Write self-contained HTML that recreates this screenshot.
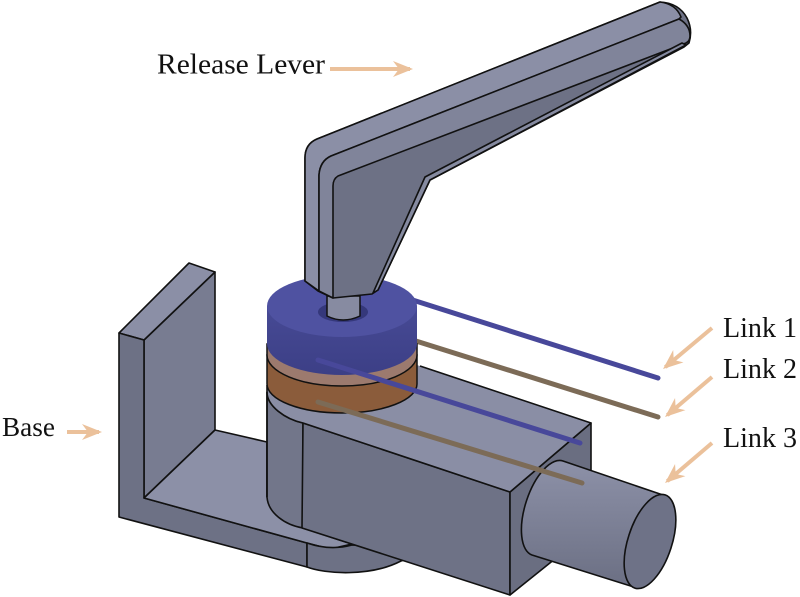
<!DOCTYPE html>
<html>
<head>
<meta charset="utf-8">
<style>
html,body{margin:0;padding:0;background:#ffffff;}
svg{display:block;}
text{font-family:"Liberation Serif","Times New Roman",serif;fill:#111;}
</style>
</head>
<body>
<svg width="800" height="597" viewBox="0 0 800 597" xmlns="http://www.w3.org/2000/svg">
<defs>
  <linearGradient id="cylg" x1="0" y1="0" x2="0" y2="1">
    <stop offset="0" stop-color="#8d91a8"/>
    <stop offset="1" stop-color="#6b6f83"/>
  </linearGradient>
  <linearGradient id="blueside" x1="0" y1="0" x2="0" y2="1">
    <stop offset="0" stop-color="#474a95"/>
    <stop offset="1" stop-color="#3c3f86"/>
  </linearGradient>
  <marker id="ah" markerUnits="userSpaceOnUse" markerWidth="20" markerHeight="18" viewBox="0 0 20 18" refX="17" refY="9" orient="auto">
    <path d="M0,1 L20,9 L0,17 L6,9 Z" fill="#ebc19b"/>
  </marker>
</defs>

<g stroke="#111" stroke-width="1.6" stroke-linejoin="round">
  <!-- Base: plate inner face -->
  <polygon points="144,340 215,272 215,430 144,498" fill="#787c91"/>
  <!-- plate top -->
  <polygon points="119,333 189,263 215,272 144,340" fill="#8b8fa6"/>
  <!-- front dark face (plate strip + floor side) -->
  <polygon points="119,333 144,340 144,498 307,543 307,567 119,517" fill="#6d7185"/>
  <!-- floor top -->
  <polygon points="144,498 215,430 267,442 267,497 303,528 352,544 330,549 307,543" fill="#8c90a7"/>
  <!-- rounded floor end -->
  <path d="M307,543 Q330,551 352,545 L410,546 L410,558 L401,561 C370,577 325,574 307,567 Z" fill="#6d7185"/>

  <!-- pivot cylinder side -->
  <path d="M267,392 C267,406 285,419 303,423 L303,528 C285,525 268,513 267,497 Z" fill="#72768a"/>

  <!-- block front face -->
  <polygon points="303,423 510,492 510,595 302,528" fill="#6e7286"/>
  <!-- block end face -->
  <polygon points="510,492 591,423 591,530 510,595" fill="#6a6e81"/>
</g>

<!-- light top region (cylinder top + block top) -->
<path d="M267,392 C267,406 285,419 303,423 L510,492 L591,423 L420,366 L267,320 Z" fill="#8a8ea5"/>
<g stroke="#111" stroke-width="1.6" fill="none" stroke-linejoin="round">
  <path d="M267,392 C267,406 285,419 303,423 L510,492 L591,423 L420,366"/>
  <path d="M267,385 L267,497"/>
</g>

<!-- shaft cylinder (Link 3) -->
<g stroke="#111" stroke-width="1.6" stroke-linejoin="round">
  <path d="M563,461 L663,495 A22,49 18 0 1 637,588 L532,555 A22,49 18 0 1 563,461 Z" fill="url(#cylg)"/>
  <ellipse cx="650" cy="541.5" rx="22" ry="49" transform="rotate(18 650 541.5)" fill="#6e7287"/>
</g>

<!-- upper wires (behind ring) -->
<g stroke-linecap="round" stroke-width="5" fill="none">
  <line x1="400" y1="296" x2="658" y2="378" stroke="#48489a"/>
  <line x1="400" y1="336" x2="658" y2="417" stroke="#7c6b57"/>
</g>

<!-- rings -->
<g stroke="#111" stroke-width="1.5">
  <path d="M267,355 L267,384 A75,29 0 0 0 417,384 L417,355 Z" fill="#8b5c3b"/>
  <path d="M267,344 L267,355 A75,31 0 0 0 417,355 L417,344 Z" fill="#9c7a6e"/>
</g>
<path d="M267,306 L267,344 A75,31 0 0 0 417,344 L417,306 Z" fill="url(#blueside)"/>
<ellipse cx="342" cy="306" rx="75" ry="31" fill="#4f52a1"/>
<ellipse cx="343" cy="312" rx="25" ry="10" fill="#35387b"/>

<!-- stub -->
<path d="M327,296 L327,316 Q343,324 360,316 L360,296 Z" fill="#878ba1" stroke="#111" stroke-width="1.5"/>

<!-- lever -->
<g stroke="#111" stroke-width="1.6" stroke-linejoin="round">
  <path d="M305,281 L305,158 Q305,144 317,139 L660,2 Q679,3 687,18 Q693,30 689,43 L684,47 L430,180 L378,290 L372,294 L333,298 L318,291 Z" fill="#6d7185"/>
  <path d="M305,281 L305,158 Q305,144 317,139 L660,2 Q676,4 681,17 L679,19 L331,156 Q320,161 319,175 L319,291 Z" fill="#8b8fa6"/>
  <path d="M319,291 L319,175 Q320,161 331,156 L679,19 Q690,25 690,36 Q690,41 686,43 L338,176 Q333,179 333,186 L333,298 Z" fill="#80849a"/>
  <path d="M686,45 L430,180 L378,290 L373,293 L425,177 L682,43 Z" fill="#858aa0"/>
</g>

<!-- lower wires (over ring/block) -->
<g stroke-linecap="round" stroke-width="5" fill="none">
  <line x1="318" y1="360" x2="580" y2="443" stroke="#48489a"/>
  <line x1="318" y1="402" x2="582" y2="483" stroke="#7c6b57"/>
</g>

<!-- arrows -->
<g stroke="#ebc19b" stroke-width="4" fill="none">
  <line x1="330" y1="69" x2="410" y2="69" marker-end="url(#ah)"/>
  <line x1="67" y1="432" x2="99" y2="432" marker-end="url(#ah)"/>
  <line x1="712" y1="328" x2="665.3" y2="367.1" marker-end="url(#ah)"/>
  <line x1="712" y1="377" x2="667.3" y2="415.1" marker-end="url(#ah)"/>
  <line x1="712" y1="443" x2="667.3" y2="481.1" marker-end="url(#ah)"/>
</g>

<!-- labels -->
<text x="157" y="73.5" font-size="28" textLength="168" lengthAdjust="spacingAndGlyphs">Release Lever</text>
<text x="2" y="436" font-size="27" textLength="53" lengthAdjust="spacingAndGlyphs">Base</text>
<text x="723" y="337" font-size="28" textLength="74" lengthAdjust="spacingAndGlyphs">Link 1</text>
<text x="723" y="378" font-size="28" textLength="74" lengthAdjust="spacingAndGlyphs">Link 2</text>
<text x="723" y="447" font-size="28" textLength="74" lengthAdjust="spacingAndGlyphs">Link 3</text>
</svg>
</body>
</html>
